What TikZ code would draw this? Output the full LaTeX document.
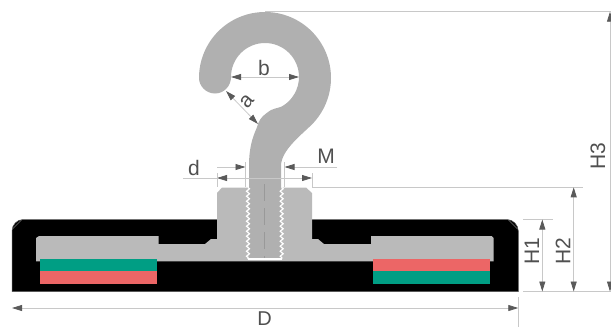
\documentclass[tikz,border=0pt]{standalone}
\usepackage{fontspec}
\setmainfont{Liberation Sans}
\usetikzlibrary{arrows.meta,decorations.pathmorphing}
\definecolor{dimline}{RGB}{200,200,200}
\definecolor{dimtip}{RGB}{90,90,90}
\definecolor{dimtext}{RGB}{80,80,80}
\definecolor{hookgray}{RGB}{176,176,176}
\definecolor{plategray}{RGB}{186,186,186}
\definecolor{magteal}{RGB}{0,158,132}
\definecolor{magred}{RGB}{236,102,102}
\tikzset{
  x=1pt,y=-1pt,
  extline/.style={draw=dimline,line width=0.8pt},
  dimarrow/.style={draw=dimline,line width=0.8pt,{Triangle[length=10pt,width=6pt,color=dimtip]}-{Triangle[length=10pt,width=6pt,color=dimtip]},shorten >=0pt,shorten <=0pt},
  tipend/.style={draw=dimline,line width=0.8pt,-{Triangle[length=10pt,width=6pt,color=dimtip]}},
  lbl/.style={text=dimtext,font=\fontsize{21}{21}\selectfont,inner sep=0pt},
  thread/.style={draw=white,line width=1.2pt,decorate,decoration={zigzag,segment length=5pt,amplitude=1.5pt}}
}
\begin{document}
\begin{tikzpicture}
\useasboundingbox (0,0) rectangle (611,327);
% base body
\path[fill=black,draw=black!65,line width=0.5pt] (12,231) .. controls (12,225) and (17,219.5) .. (23,219.5) -- (507,219.5) .. controls (513,219.5) and (518.3,225) .. (518.3,231) -- (518.3,291.5) -- (12,291.5) -- cycle;
\coordinate (cA) at (12.5,229); \coordinate (cB) at (21.5,220);
\coordinate (cC) at (508.5,220); \coordinate (cD) at (517.5,229);
\draw[black!55,line width=0.4pt] (cA) -- (cB);
\draw[black!55,line width=0.4pt] (cC) -- (cD);
% threaded plate
\path[fill=plategray] (36,238) -- (39,236) -- (158.5,236) -- (158.5,244) -- (205,244) -- (211,239) -- (217,239) -- (217,193) -- (222,187.5) -- (306,187.5) -- (312,193) -- (312,239) -- (318,239) -- (324,244) -- (371,244) -- (371,236) -- (491.5,236) -- (493.7,238) -- (493.7,261.3) -- (36,261.3) -- cycle;
% magnets
\fill[magteal] (40,258.5) rectangle (157,271);
\fill[magred] (40,271) rectangle (157,284);
\fill[magred] (372.5,258.5) rectangle (489.7,271);
\fill[magteal] (372.5,271) rectangle (489.7,284);
% hook
\path[fill=hookgray] (199,78) .. controls (199,41.5) and (228.5,12) .. (265,12)
  .. controls (301.5,12) and (331,41.5) .. (331,78)
  .. controls (331,95.5) and (324,112.3) .. (311.7,124.7)
  .. controls (300,136) and (282,150) .. (281,165)
  -- (281,258) -- (249,258) -- (249,165)
  .. controls (249,150) and (252,138) .. (256.7,128)
  .. controls (258.5,121) and (261,117) .. (266.7,113)
  .. controls (272,108) and (278,108.5) .. (282,106.4)
  .. controls (292.5,100.4) and (299,89) .. (299,77)
  .. controls (299,58.2) and (283.8,43) .. (265,43)
  .. controls (246.2,43) and (231,58.2) .. (231,77)
  .. controls (231,86) and (224,93.5) .. (215,93.5)
  .. controls (206,93.5) and (199,86) .. (199,78) -- cycle;
% thread
\coordinate (thL0) at (248,187.5); \coordinate (thL1) at (248,259);
\coordinate (thR0) at (281.7,187.5); \coordinate (thR1) at (281.7,259);
\draw[thread] (thL0) -- (thL1);
\draw[thread] (thR0) -- (thR1);
\draw[white,line width=1.4pt] (thL1) -- (thR1);
\coordinate (cl0) at (264.5,184); \coordinate (cl1) at (264.5,258);
\draw[black!40,line width=0.6pt,dash pattern=on 17pt off 7pt] (cl0) -- (cl1);
% dimension b
\coordinate (bL) at (231,77); \coordinate (bR) at (299,77);
\draw[dimarrow] (bL) -- (bR);
\node[lbl] (lb) at (264,68) {b};
% dimension a
\coordinate (aA) at (226,91); \coordinate (aB) at (258,124);
\draw[dimarrow] (aA) -- (aB);
\node[lbl,rotate=50] (la) at (247,101) {a};
% dimension d
\coordinate (dL) at (217,178); \coordinate (dR) at (312,178); \coordinate (dT) at (183,178);
\draw[extline] (dT) -- (dL);
\draw[dimarrow] (dL) -- (dR);
\node[lbl] (ld) at (194,168) {d};
% dimension M
\coordinate (mL) at (245.5,167); \coordinate (mR) at (284.5,167);
\coordinate (mLo) at (217,167); \coordinate (mRo) at (337,167);
\draw[tipend] (mLo) -- (mL);
\draw[tipend] (mRo) -- (mR);
\node[lbl] (lM) at (326,156) {M};
% extension lines at thread
\coordinate (e1a) at (217,173); \coordinate (e1b) at (217,187);
\coordinate (e2a) at (312,173); \coordinate (e2b) at (312,187);
\coordinate (e3a) at (245.5,162); \coordinate (e3b) at (245.5,187);
\coordinate (e4a) at (284.5,162); \coordinate (e4b) at (284.5,187);
\draw[extline] (e1a) -- (e1b);
\draw[extline] (e2a) -- (e2b);
\draw[extline,line width=0.6pt] (e3a) -- (e3b);
\draw[extline,line width=0.6pt] (e4a) -- (e4b);
% heights
\coordinate (x3a) at (265,11.7); \coordinate (x3b) at (611,11.7);
\coordinate (x2a) at (312,187.3); \coordinate (x2b) at (582.7,187.3);
\coordinate (x1a) at (523,219.5); \coordinate (x1b) at (552.7,219.5);
\coordinate (x0a) at (523,291.5); \coordinate (x0b) at (611,291.5);
\draw[extline] (x3a) -- (x3b);
\draw[extline] (x2a) -- (x2b);
\draw[extline] (x1a) -- (x1b);
\draw[extline] (x0a) -- (x0b);
\coordinate (h1t) at (542.3,219.5); \coordinate (h1b) at (542.3,291.5);
\coordinate (h2t) at (573.7,187.3); \coordinate (h2b) at (573.7,291.5);
\coordinate (h3t) at (610,11.7); \coordinate (h3b) at (610,291.5);
\draw[dimarrow] (h1t) -- (h1b);
\draw[dimarrow] (h2t) -- (h2b);
\draw[dimarrow] (h3t) -- (h3b);
\node[lbl,rotate=90] (lH1) at (532,251.5) {H1};
\node[lbl,rotate=90] (lH2) at (563,251.5) {H2};
\node[lbl,rotate=90] (lH3) at (598,156) {H3};
% dimension D
\coordinate (DL) at (12,308); \coordinate (DR) at (518.3,308);
\draw[dimarrow] (DL) -- (DR);
\coordinate (De0) at (518.7,297); \coordinate (De1) at (518.7,327);
\draw[extline] (De0) -- (De1);
\node[lbl,font=\fontsize{20}{20}\selectfont,anchor=base] (lD) at (264.5,325.5) {D};
\end{tikzpicture}
\end{document}
